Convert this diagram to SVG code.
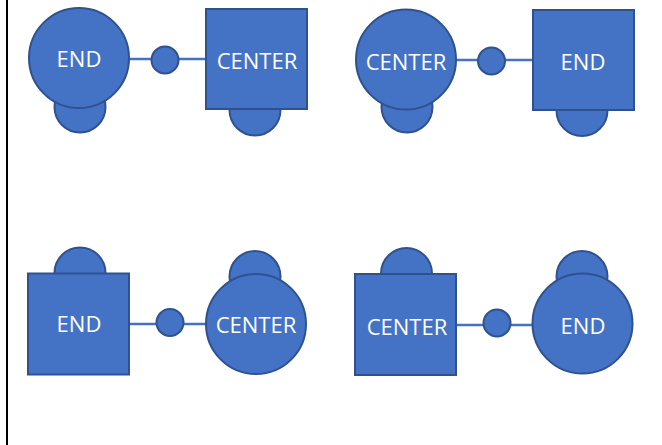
<svg xmlns="http://www.w3.org/2000/svg" width="662" height="445" viewBox="0 0 662 445">
<style>
.s{fill:#4472C4;stroke:#2F528F;stroke-width:2}
.c{stroke:#4472C4;stroke-width:2.5;fill:none}
.t{font-family:"Open Sans","Liberation Sans",sans-serif;font-size:22px;fill:#FFFFFF;text-anchor:middle;dominant-baseline:central}
</style>
<rect width="662" height="445" fill="#FFFFFF"/>
<line x1="7" y1="0" x2="7" y2="445" stroke="#000000" stroke-width="2"/>
<g id="connectors">
<line class="c" x1="129" y1="59" x2="206" y2="59"/>
<line class="c" x1="456" y1="60" x2="533" y2="60"/>
<line class="c" x1="129" y1="324" x2="206" y2="324"/>
<line class="c" x1="455" y1="325" x2="532" y2="325"/>
</g>
<g id="p1-end">
<circle class="s" cx="80" cy="107" r="25.5"/>
<circle class="s" cx="79" cy="58" r="50"/>
<text class="t" x="79" y="58">END</text>
</g>
<g id="p1-mid"><circle class="s" cx="165" cy="60" r="13.5"/></g>
<g id="p1-center">
<circle class="s" cx="255" cy="110" r="25.5"/>
<rect class="s" x="206" y="9" width="101" height="100"/>
<text class="t" x="257" y="60">CENTER</text>
</g>
<g id="p2-center">
<circle class="s" cx="407" cy="107" r="25.5"/>
<circle class="s" cx="406" cy="59.5" r="50"/>
<text class="t" x="406" y="61">CENTER</text>
</g>
<g id="p2-mid"><circle class="s" cx="491.5" cy="61" r="13.5"/></g>
<g id="p2-end">
<circle class="s" cx="582" cy="110.5" r="25.5"/>
<rect class="s" x="533" y="10" width="101" height="100"/>
<text class="t" x="583" y="61">END</text>
</g>
<g id="p3-end">
<circle class="s" cx="80" cy="273" r="25.5"/>
<rect class="s" x="28" y="273.5" width="101" height="101"/>
<text class="t" x="79" y="323">END</text>
</g>
<g id="p3-mid"><circle class="s" cx="170" cy="322.5" r="13.5"/></g>
<g id="p3-center">
<circle class="s" cx="255" cy="276.5" r="25.5"/>
<circle class="s" cx="256" cy="324" r="50"/>
<text class="t" x="256" y="324">CENTER</text>
</g>
<g id="p4-center">
<circle class="s" cx="406.5" cy="273.5" r="25.5"/>
<rect class="s" x="355" y="274" width="101" height="101"/>
<text class="t" x="407" y="326">CENTER</text>
</g>
<g id="p4-mid"><circle class="s" cx="497" cy="323" r="13.5"/></g>
<g id="p4-end">
<circle class="s" cx="582" cy="276.5" r="25.5"/>
<circle class="s" cx="582.5" cy="323.5" r="50"/>
<text class="t" x="583" y="325">END</text>
</g>
</svg>
